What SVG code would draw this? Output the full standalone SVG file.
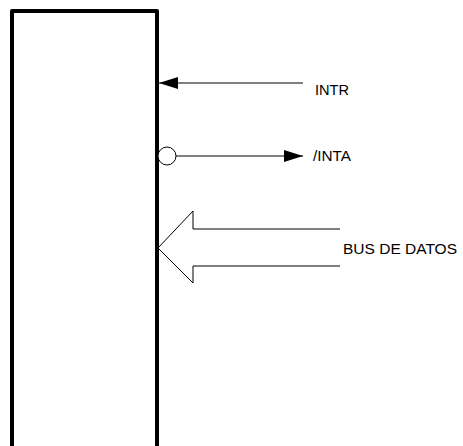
<svg xmlns="http://www.w3.org/2000/svg" width="463" height="446" viewBox="0 0 463 446">
<style>
.lbl{font-family:"Liberation Sans",Arial,sans-serif;font-size:14px;fill:#000}
.thin{stroke:#000;stroke-width:1;fill:none}
</style>
<defs>
<marker id="ah" markerWidth="20" markerHeight="12" refX="19" refY="6" orient="auto" markerUnits="userSpaceOnUse">
<path d="M0,0 L19,6 L0,12 Z" fill="#000"/>
</marker>
</defs>
<rect width="463" height="446" fill="#fff"/>
<g id="chip">
<path d="M12,450 L12,11 L157,11 L157,450" fill="none" stroke="#000" stroke-width="4" stroke-linejoin="round"/>
</g>
<g id="connectors">
<line class="thin" x1="303" y1="83" x2="159" y2="83" marker-end="url(#ah)"/>
<circle cx="167" cy="156" r="9" fill="#fff" stroke="#000" stroke-width="1"/>
<line class="thin" x1="176" y1="156" x2="303" y2="156" marker-end="url(#ah)"/>
<path class="thin" d="M340,229 L193,229 L193,211 L158,248 L193,283 L193,266 L340,266"/>
</g>
<g id="labels">
<text class="lbl" x="315" y="95" textLength="34" lengthAdjust="spacingAndGlyphs">INTR</text>
<text class="lbl" x="313" y="161" textLength="38" lengthAdjust="spacingAndGlyphs">/INTA</text>
<text class="lbl" x="343" y="254" textLength="114" lengthAdjust="spacingAndGlyphs">BUS DE DATOS</text>
</g>
</svg>
